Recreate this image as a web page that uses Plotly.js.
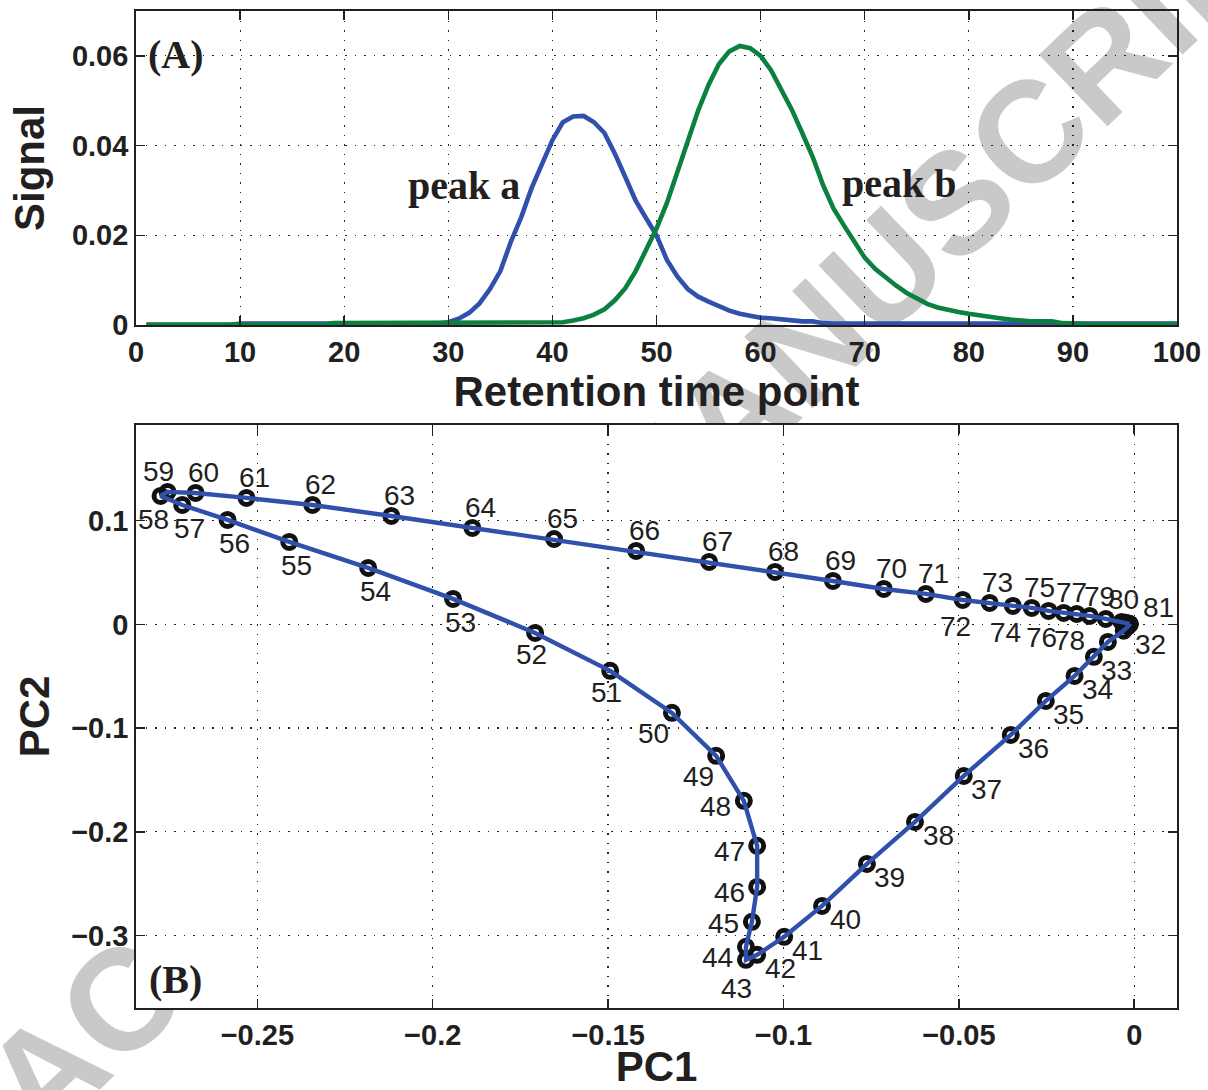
<!DOCTYPE html>
<html><head><meta charset="utf-8">
<script src="https://cdn.plot.ly/plotly-3.0.1.min.js"></script>
<style>html,body{margin:0;padding:0;background:#fff}#chart{width:1208px;height:1090px}</style>
</head><body><div id="chart"></div>
<script>
// ---------- Panel A data ----------
const retentionTime = [1,2,3,4,5,6,7,8,9,10,11,12,13,14,15,16,17,18,19,20,
  21,22,23,24,25,26,27,28,29,30,31,32,33,34,35,36,37,38,39,40,
  41,42,43,44,45,46,47,48,49,50,51,52,53,54,55,56,57,58,59,60,
  61,62,63,64,65,66,67,68,69,70,71,72,73,74,75,76,77,78,79,80,
  81,82,83,84,85,86,87,88,89,90,91,92,93,94,95,96,97,98,99,100];
const peakA = [0,0,0,0,0,0,0,0,0,
  0.0003,0.0003,0.0003,0.0003,0.0003,0.0003,0.0003,0.0003,0.0003,0.0003,
  0.0003,0.0003,0.0003,0.0003,0.0003,0.0003,0.0003,0.0003,0.0003,0.0003,
  0.0006,0.0014,0.0027,0.0048,0.0080,0.0120,0.0185,0.0240,0.0305,0.0360,
  0.0412,0.0452,0.0465,0.0466,0.0452,0.0428,0.0382,0.0330,0.0277,0.0238,
  0.0200,0.0145,0.0108,0.0080,0.0063,0.0052,0.0042,0.0032,0.0025,0.0020,
  0.0016,0.0015,0.0013,0.0009,0.0008,0.0008,0.0004,
  0.0003,0.0003,0.0003,0.0003,0.0003,0.0003,0.0003,0.0003,0.0003,0.0003,
  0.0003,0.0003,0.0003,0.0003,0.0003,0.0003,0.0003,0.0003,0.0003,0.0003,
  0.0003,0.0003,0.0003,0.0003,0.0003,0.0003,0.0003,0.0003,0.0003,0.0003,
  0.0003,0.0003,0.0003,0.0003];
const peakB = [0.0001,0.0001,0.0001,0.0001,0.0001,0.0001,0.0001,0.0001,0.0001,0.0001,
  0.0001,0.0001,0.0001,0.0001,0.0001,0.0001,0.0001,0.0001,
  0.0004,0.0004,0.0004,0.0004,0.0004,0.0004,0.0004,0.0004,0.0004,0.0004,
  0.0004,0.0004,0.0004,0.0004,0.0004,0.0004,0.0004,0.0004,0.0004,0.0004,
  0.0004,0.0004,
  0.0006,0.0010,0.0015,0.0023,0.0035,0.0055,0.0082,0.0120,0.0165,0.0215,
  0.0272,0.0340,0.0412,0.0478,0.0535,0.0582,0.0610,0.0622,0.0617,0.0600,
  0.0568,0.0525,0.0480,0.0428,0.0375,0.0312,0.0260,0.0222,0.0185,0.0150,
  0.0125,0.0105,0.0088,0.0072,0.0058,0.0047,0.0039,0.0033,0.0029,0.0025,
  0.0021,0.0018,0.0015,0.0012,0.0009,0.0008,0.0008,0.0008,0.0004,
  0.0002,0.0002,0.0002,0.0002,0.0002,0.0002,0.0002,0.0002,0.0002,0.0002,0.0002];

// ---------- Panel B data ----------
const pcLabels = [32,33,34,35,36,37,38,39,40,41,42,43,44,45,46,47,48,49,50,51,
  52,53,54,55,56,57,58,59,60,61,62,63,64,65,66,67,68,69,70,71,
  72,73,74,75,76,77,78,79,80,81];
const pc1 = [-0.0075,-0.0115,-0.0170,-0.0252,-0.0352,-0.0486,-0.0625,-0.0762,-0.0890,-0.0998,
  -0.1075,-0.1107,-0.1107,-0.1090,-0.1075,-0.1075,-0.1113,-0.1192,-0.1318,-0.1494,
  -0.1708,-0.1942,-0.2184,-0.2409,-0.2585,-0.2714,-0.2776,-0.2756,-0.2676,-0.2531,
  -0.2343,-0.2118,-0.1887,-0.1654,-0.1420,-0.1212,-0.1024,-0.0859,-0.0714,-0.0594,
  -0.0489,-0.0412,-0.0346,-0.0292,-0.0244,-0.0201,-0.0164,-0.0127,-0.0081,-0.0036];
const pc2 = [-0.0169,-0.0313,-0.0497,-0.0738,-0.1066,-0.1461,-0.1905,-0.2310,-0.2715,-0.3013,
  -0.3187,-0.3235,-0.3110,-0.2869,-0.2532,-0.2136,-0.1702,-0.1268,-0.0853,-0.0448,
  -0.0082,0.0246,0.0545,0.0796,0.1008,0.1152,0.1239,0.1278,0.1268,0.1220,
  0.1152,0.1046,0.0931,0.0824,0.0709,0.0603,0.0506,0.0419,0.0342,0.0294,
  0.0236,0.0207,0.0178,0.0159,0.0130,0.0111,0.0101,0.0082,0.0053,0.0024];
// unlabeled points near the origin (before point 32 and after point 81)
const originBeforePC1 = [-0.0013,-0.0013,-0.0018,-0.0030];
const originBeforePC2 = [0.0004,0.0000,-0.0020,-0.0060];
const originAfterPC1 = [-0.0024,-0.0016,-0.0013];
const originAfterPC2 = [0.0016,0.0008,0.0005];

const allPC1 = originBeforePC1.concat(pc1, originAfterPC1);
const allPC2 = originBeforePC2.concat(pc2, originAfterPC2);

// ---------- styles ----------
const BLUE = '#2f50ab', GREEN = '#0c813f', INK = '#231f20';
const SANS = 'Liberation Sans, Arial, Helvetica, sans-serif';
const SERIF = 'Liberation Serif, Times New Roman, serif';

function labelOffset(id) {
  if (id === 32) return [43, 3];
  if (id <= 42) return [23, 14];
  if (id === 43) return [-9, 29];
  if (id === 44) return [-28, 11];
  if (id === 45) return [-28, 2];
  if (id <= 48) return [-28, 6];
  if (id <= 50) return [-18, 21];
  if (id <= 52) return [-4, 22];
  if (id <= 57) return [7, 24];
  if (id === 58) return [-7, 24];
  if (id === 59) return [-9, -20];
  if (id === 79) return [10, -19];
  if (id === 80) return [18, -19];
  if (id === 81) return [37, -14];
  if (id >= 72 && id % 2 === 0) return [-7, 27];
  return [8, -20];
}

const traces = [
  {x: retentionTime, y: peakA, xaxis: 'x', yaxis: 'y', mode: 'lines', name: 'peak a',
   line: {color: BLUE, width: 4.6}},
  {x: retentionTime, y: peakB, xaxis: 'x', yaxis: 'y', mode: 'lines', name: 'peak b',
   line: {color: GREEN, width: 4.6}},
  {x: allPC1, y: allPC2, xaxis: 'x2', yaxis: 'y2', mode: 'markers', name: 'scores',
   marker: {symbol: 'circle-open', size: 13, color: '#111', line: {width: 5, color: '#111'}}},
  {x: allPC1, y: allPC2, xaxis: 'x2', yaxis: 'y2', mode: 'lines', name: 'trajectory',
   line: {color: BLUE, width: 4.4}}
];

const annotations = pcLabels.map((id, i) => {
  const o = labelOffset(id);
  return {xref: 'x2', yref: 'y2', x: pc1[i], y: pc2[i], text: String(id), showarrow: false,
    xshift: o[0], yshift: -o[1], font: {family: SANS, size: 28, color: INK}};
});
annotations.push(
  {xref: 'x', yref: 'y', x: 31.5, y: 0.0312, text: 'peak a', showarrow: false,
   font: {family: SERIF, size: 40, color: INK, weight: 'bold'}},
  {xref: 'x', yref: 'y', x: 73.3, y: 0.0316, text: 'peak b', showarrow: false,
   font: {family: SERIF, size: 40, color: INK, weight: 'bold'}},
  {xref: 'x', yref: 'y', x: 3.85, y: 0.0604, text: '(A)', showarrow: false,
   font: {family: SERIF, size: 40, color: INK, weight: 'bold'}},
  {xref: 'x2', yref: 'y2', x: -0.2734, y: -0.3428, text: '(B)', showarrow: false,
   font: {family: SERIF, size: 40, color: INK, weight: 'bold'}}
);

function axisBase() {
  return {
    showline: true, linecolor: INK, linewidth: 1.8, mirror: 'ticks',
    ticks: 'inside', ticklen: 9, tickwidth: 1.5, tickcolor: INK,
    showgrid: true, gridcolor: '#222', gridwidth: 1.2, griddash: '1.5px,8px',
    zeroline: false,
    tickfont: {family: SANS, size: 29, color: INK, weight: 'bold'}
  };
}

const layout = {
  width: 1208, height: 1090,
  margin: {l: 136, r: 31, t: 11, b: 82},
  paper_bgcolor: '#fff', plot_bgcolor: 'rgba(0,0,0,0)',
  showlegend: false,
  xaxis: Object.assign(axisBase(), {domain: [0, 1], anchor: 'y', range: [0, 100], dtick: 10, tick0: 0,
    title: {text: 'Retention time point', standoff: 4, font: {family: SANS, size: 42, color: INK, weight: 'bold'}}}),
  yaxis: Object.assign(axisBase(), {domain: [0.6851, 1], anchor: 'x', range: [0, 0.07], dtick: 0.02, tick0: 0,
    title: {text: 'Signal', standoff: 14, font: {family: SANS, size: 42, color: INK, weight: 'bold'}}}),
  xaxis2: Object.assign(axisBase(), {domain: [0, 1], anchor: 'y2', range: [-0.2846, 0.0122], dtick: 0.05, tick0: 0,
    title: {text: 'PC1', standoff: 6, font: {family: SANS, size: 42, color: INK, weight: 'bold'}}}),
  yaxis2: Object.assign(axisBase(), {domain: [0, 0.5848], anchor: 'x2', range: [-0.370, 0.1924], dtick: 0.1, tick0: 0,
    title: {text: 'PC2', standoff: 8, font: {family: SANS, size: 42, color: INK, weight: 'bold'}}}),
  annotations: annotations,
  shapes: [
    {type: 'rect', xref: 'paper', yref: 'paper', x0: 0.39, x1: 0.59, y0: 0.43, y1: 0.63,
     line: {width: 0}, fillcolor: 'rgba(0,0,0,0)', layer: 'below',
     label: {text: 'ACCEPTED MANUSCRIPT', textangle: -43.7, textposition: 'middle center',
       font: {family: SANS, size: 144, color: '#c9c9c9', weight: 'bold'}}},
    {type: 'rect', xref: 'paper', yref: 'paper', x0: 0, x1: 1, y0: 0, y1: 0.5848,
     line: {width: 0}, fillcolor: '#ffffff', layer: 'below'}
  ]
};

Plotly.newPlot('chart', traces, layout, {displayModeBar: false, staticPlot: true});
</script>
</body></html>
